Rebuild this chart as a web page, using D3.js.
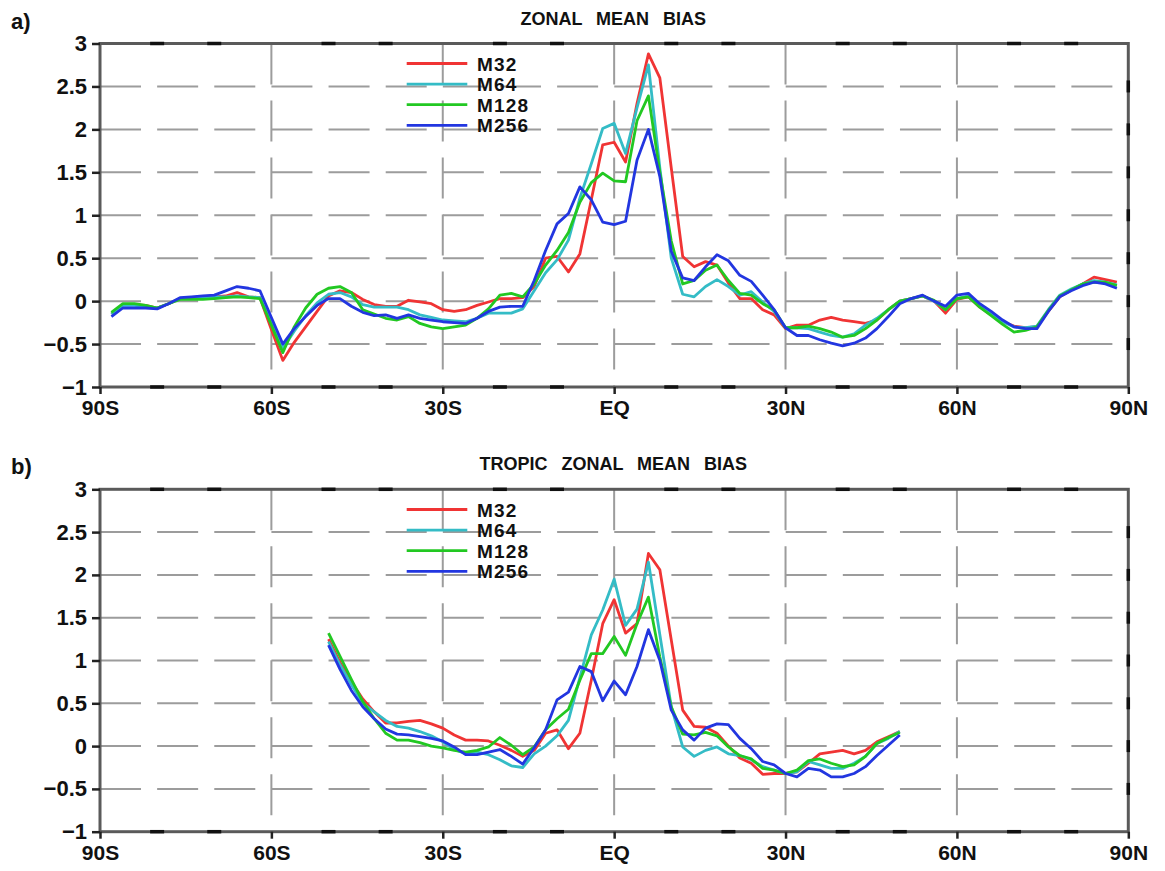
<!DOCTYPE html>
<html>
<head>
<meta charset="utf-8">
<script src="https://cdn.jsdelivr.net/npm/d3@7"></script>
<style>
  html, body { margin: 0; padding: 0; background: #fff; }
  svg { display: block; }
  text { font-family: "Liberation Sans", Arial, sans-serif; font-weight: bold; fill: #111; }
</style>
</head>
<body>
<svg id="chart" width="1165" height="871"></svg>
<script>
// ---------- DATA ----------
const latA = d3.range(-88, 89, 2);
const m32A = [-0.15,-0.04,-0.04,-0.05,-0.08,-0.03,0.03,0.04,0.05,0.05,0.06,0.10,0.05,0.04,-0.33,-0.69,-0.48,-0.30,-0.12,0.06,0.12,0.10,0.02,-0.04,-0.06,-0.06,0.01,-0.01,-0.03,-0.10,-0.12,-0.10,-0.05,-0.01,0.03,0.03,0.04,0.17,0.50,0.52,0.34,0.55,1.18,1.82,1.85,1.62,2.30,2.88,2.60,1.55,0.52,0.40,0.46,0.42,0.21,0.03,0.03,-0.10,-0.16,-0.32,-0.28,-0.28,-0.22,-0.19,-0.22,-0.24,-0.26,-0.22,-0.10,0.00,0.03,0.06,0.00,-0.14,0.02,0.05,-0.07,-0.16,-0.24,-0.29,-0.31,-0.30,-0.12,0.05,0.13,0.20,0.28,0.25,0.22];
const m64A = [-0.15,-0.05,-0.05,-0.06,-0.08,-0.03,0.03,0.04,0.05,0.05,0.05,0.06,0.05,0.04,-0.25,-0.55,-0.35,-0.17,-0.02,0.08,0.10,0.05,-0.04,-0.07,-0.07,-0.07,-0.10,-0.16,-0.19,-0.22,-0.23,-0.24,-0.20,-0.14,-0.14,-0.14,-0.09,0.12,0.33,0.48,0.71,1.20,1.60,2.01,2.07,1.72,2.25,2.75,1.55,0.50,0.08,0.05,0.17,0.25,0.17,0.07,0.11,-0.01,-0.12,-0.31,-0.31,-0.32,-0.36,-0.40,-0.42,-0.38,-0.28,-0.20,-0.10,0.00,0.03,0.06,0.00,-0.10,0.03,0.06,-0.06,-0.15,-0.24,-0.30,-0.31,-0.29,-0.10,0.07,0.14,0.20,0.24,0.22,0.19];
const m128A = [-0.13,-0.03,-0.03,-0.05,-0.08,-0.03,0.02,0.02,0.02,0.03,0.04,0.05,0.04,0.03,-0.28,-0.60,-0.30,-0.08,0.08,0.15,0.17,0.10,-0.10,-0.15,-0.20,-0.22,-0.18,-0.26,-0.30,-0.32,-0.30,-0.28,-0.20,-0.09,0.07,0.09,0.05,0.20,0.42,0.59,0.80,1.15,1.38,1.49,1.40,1.39,2.10,2.39,1.50,0.70,0.20,0.24,0.36,0.42,0.24,0.09,0.07,-0.03,-0.10,-0.31,-0.31,-0.29,-0.32,-0.36,-0.42,-0.40,-0.32,-0.22,-0.10,0.00,0.03,0.06,0.01,-0.10,0.03,0.05,-0.07,-0.17,-0.27,-0.36,-0.34,-0.30,-0.11,0.06,0.13,0.20,0.22,0.22,0.18];
const m256A = [-0.18,-0.08,-0.08,-0.08,-0.09,-0.03,0.04,0.05,0.06,0.07,0.12,0.17,0.15,0.12,-0.19,-0.50,-0.32,-0.18,-0.05,0.03,0.03,-0.06,-0.13,-0.17,-0.16,-0.20,-0.16,-0.20,-0.22,-0.24,-0.25,-0.26,-0.20,-0.12,-0.07,-0.06,-0.06,0.24,0.59,0.90,1.02,1.33,1.18,0.92,0.89,0.93,1.64,2.00,1.45,0.58,0.27,0.24,0.40,0.54,0.47,0.30,0.23,0.07,-0.10,-0.31,-0.40,-0.40,-0.45,-0.49,-0.52,-0.49,-0.43,-0.32,-0.18,-0.03,0.03,0.07,0.00,-0.06,0.07,0.09,-0.03,-0.12,-0.22,-0.30,-0.32,-0.32,-0.12,0.05,0.12,0.18,0.22,0.20,0.15];

const latB = d3.range(-50, 51, 2);
const m32B = [1.25,0.98,0.75,0.55,0.40,0.27,0.27,0.29,0.30,0.26,0.21,0.13,0.07,0.07,0.06,0.01,-0.05,-0.12,-0.05,0.15,0.19,-0.03,0.15,0.77,1.43,1.71,1.32,1.43,2.25,2.06,1.24,0.42,0.23,0.22,0.15,0.00,-0.14,-0.20,-0.33,-0.32,-0.32,-0.30,-0.20,-0.09,-0.07,-0.05,-0.09,-0.05,0.05,0.11,0.17];
const m64B = [1.22,0.95,0.72,0.50,0.40,0.30,0.23,0.21,0.17,0.12,0.05,-0.04,-0.09,-0.07,-0.10,-0.16,-0.23,-0.25,-0.09,0.00,0.12,0.30,0.80,1.30,1.59,1.95,1.41,1.60,2.15,1.30,0.46,-0.01,-0.12,-0.05,-0.01,-0.09,-0.11,-0.16,-0.24,-0.28,-0.32,-0.30,-0.18,-0.22,-0.26,-0.26,-0.20,-0.12,0.03,0.09,0.17];
const m128B = [1.32,1.05,0.78,0.52,0.32,0.15,0.07,0.07,0.04,0.00,-0.02,-0.05,-0.07,-0.05,-0.01,0.10,0.01,-0.10,-0.01,0.19,0.32,0.43,0.77,1.08,1.08,1.28,1.06,1.43,1.74,1.04,0.46,0.14,0.13,0.16,0.12,-0.01,-0.11,-0.15,-0.26,-0.28,-0.32,-0.28,-0.17,-0.15,-0.20,-0.24,-0.22,-0.12,0.03,0.10,0.16];
const m256B = [1.18,0.90,0.65,0.46,0.32,0.20,0.14,0.13,0.11,0.09,0.06,-0.01,-0.10,-0.10,-0.07,-0.04,-0.12,-0.21,-0.02,0.19,0.54,0.63,0.93,0.87,0.53,0.76,0.60,0.93,1.36,1.00,0.42,0.19,0.07,0.21,0.26,0.25,0.09,-0.03,-0.18,-0.22,-0.32,-0.36,-0.26,-0.28,-0.36,-0.36,-0.32,-0.24,-0.11,0.01,0.13];

const seriesNames = ["M32", "M64", "M128", "M256"];
const seriesColors = ["#f03434", "#34bcc6", "#22c822", "#2236e0"];

const xTicks = [-90, -60, -30, 0, 30, 60, 90];
const xTickLabels = ["90S", "60S", "30S", "EQ", "30N", "60N", "90N"];
const yTicks = [-1, -0.5, 0, 0.5, 1, 1.5, 2, 2.5, 3];
const yTickLabels = ["\u22121", "\u22120.5", "0", "0.5", "1", "1.5", "2", "2.5", "3"];

const panels = [
  { tag: "a)", title: "ZONAL  MEAN  BIAS", lat: latA, values: [m32A, m64A, m128A, m256A], top: 43.5, bottom: 387, tagY: 29, titleY: 25, legTop: 63.5 },
  { tag: "b)", title: "TROPIC  ZONAL  MEAN  BIAS", lat: latB, values: [m32B, m64B, m128B, m256B], top: 489.3, bottom: 831.7, tagY: 474, titleY: 470, legTop: 509.5 }
];

// ---------- DRAW ----------
const svg = d3.select("#chart");
const left = 100, right = 1128.3;

panels.forEach(p => {
  const g = svg.append("g");
  const x = d3.scaleLinear().domain([-90, 90]).range([left, right]);
  const y = d3.scaleLinear().domain([-1, 3]).range([p.bottom, p.top]);

  // grid
  g.append("g").selectAll("line.h").data(yTicks.filter(v => v > -1 && v < 3)).join("line")
    .attr("x1", left).attr("x2", right)
    .attr("y1", d => y(d)).attr("y2", d => y(d))
    .attr("stroke", "#9c9c9c").attr("stroke-width", 2)
    .attr("stroke-dasharray", "41,16.14");
  g.append("g").selectAll("line.v").data(xTicks.filter(v => v > -90 && v < 90)).join("line")
    .attr("x1", d => x(d)).attr("x2", d => x(d))
    .attr("y1", p.top).attr("y2", p.bottom)
    .attr("stroke", "#9c9c9c").attr("stroke-width", 2)
    .attr("stroke-dasharray", "41,16");

  // series
  const line = d3.line().x(d => x(d[0])).y(d => y(d[1]));
  p.values.forEach((vals, i) => {
    g.append("path")
      .datum(p.lat.map((l, k) => [l, vals[k]]))
      .attr("fill", "none")
      .attr("stroke", seriesColors[i])
      .attr("stroke-width", 2.8)
      .attr("stroke-linejoin", "round")
      .attr("d", line);
  });

  // frame
  g.append("rect")
    .attr("x", left).attr("y", p.top)
    .attr("width", right - left).attr("height", p.bottom - p.top)
    .attr("fill", "none").attr("stroke", "#5a5a5a").attr("stroke-width", 3);

  // minor dark marks on the frame
  const minorX = d3.range(-80, 90, 10).filter(v => v % 30 !== 0);
  [p.top, p.bottom].forEach(yy => {
    g.append("g").selectAll("line").data(minorX).join("line")
      .attr("x1", d => x(d) - 7).attr("x2", d => x(d) + 7)
      .attr("y1", yy).attr("y2", yy)
      .attr("stroke", "#111").attr("stroke-width", 3.5);
  });
  g.append("g").selectAll("line").data(yTicks.filter(v => v > -1 && v < 3)).join("line")
    .attr("x1", right).attr("x2", right)
    .attr("y1", d => y(d) - 6).attr("y2", d => y(d) + 6)
    .attr("stroke", "#111").attr("stroke-width", 3.5);

  // axes
  const yAxis = d3.axisLeft(y).tickValues(yTicks)
    .tickFormat((d, i) => yTickLabels[i]).tickSize(8).tickPadding(5);
  const ya = g.append("g").attr("transform", `translate(${left},0)`).call(yAxis);
  ya.select(".domain").remove();
  ya.selectAll(".tick line").attr("stroke", "#222").attr("stroke-width", 2.5);
  ya.selectAll(".tick text").attr("font-size", 22).attr("font-family", "Liberation Sans, Arial, sans-serif")
    .attr("font-weight", "bold").attr("fill", "#111");

  const xAxis = d3.axisBottom(x).tickValues(xTicks)
    .tickFormat((d, i) => xTickLabels[i]).tickSize(7).tickPadding(6);
  const xa = g.append("g").attr("transform", `translate(0,${p.bottom})`).call(xAxis);
  xa.select(".domain").remove();
  xa.selectAll(".tick line").attr("stroke", "#222").attr("stroke-width", 2.5);
  xa.selectAll(".tick text").attr("font-size", 21).attr("font-family", "Liberation Sans, Arial, sans-serif")
    .attr("font-weight", "bold").attr("fill", "#111");

  // tag and title
  svg.append("text").attr("x", 11).attr("y", p.tagY).attr("font-size", 22).text(p.tag);
  svg.append("text").attr("x", 613.3).attr("y", p.titleY).attr("text-anchor", "middle")
    .attr("font-size", 18).style("word-spacing", "2px").style("white-space", "pre").text(p.title);

  // legend
  const leg = g.append("g");
  seriesNames.forEach((name, i) => {
    const ly = p.legTop + i * 20.6;
    leg.append("line").attr("x1", 406.7).attr("x2", 467.3).attr("y1", ly).attr("y2", ly)
      .attr("stroke", seriesColors[i]).attr("stroke-width", 2.8);
    leg.append("text").attr("x", 477).attr("y", ly + 7).attr("font-size", 19)
      .style("letter-spacing", "1.2px").text(name);
  });
});
</script>
</body>
</html>
